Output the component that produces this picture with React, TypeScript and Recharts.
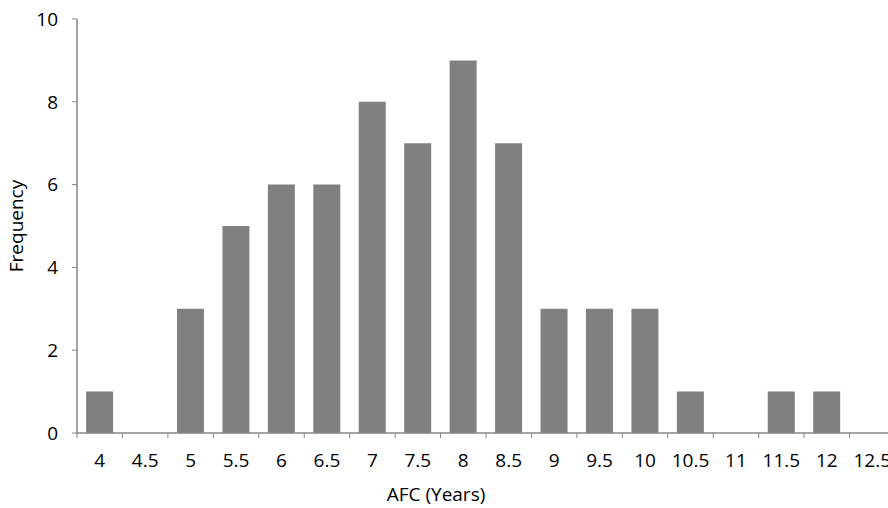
import React from 'react'
import { BarChart, Bar, XAxis, YAxis } from 'recharts'

// AFC bins (years) and how many fell in each
const afcBins = ['4', '4.5', '5', '5.5', '6', '6.5', '7', '7.5', '8', '8.5', '9', '9.5', '10', '10.5', '11', '11.5', '12', '12.5']
const frequency = [1, 0, 3, 5, 6, 6, 8, 7, 9, 7, 3, 3, 3, 1, 0, 1, 1, 0]
const yTicks = [0, 2, 4, 6, 8, 10]

const data = afcBins.map((bin, i) => ({ bin, freq: frequency[i] }))

const FONT = '"Open Sans", sans-serif'
const AXIS = '#868686'

// tick mark sits on the boundary between bins, label in the middle
const BinTick = (props: any) => {
  const { x, y, payload, width, visibleTicksCount } = props
  const bw = width / visibleTicksCount
  const left = x - bw / 2
  return (
    <g>
      <line x1={left} x2={left} y1={y} y2={y + 5} stroke={AXIS} strokeWidth={1} />
      <text x={x} y={y + 34} textAnchor="middle" fill="#000" fontSize={19} fontFamily={FONT}>
        {payload.value}
      </text>
    </g>
  )
}

export default function App() {
  return (
    <div style={{ position: 'absolute', left: 0, top: 0, width: 888, height: 508, overflow: 'hidden', background: '#fff' }}>
      <BarChart
        width={900}
        height={508}
        data={data}
        margin={{ top: 19, right: 5, left: 0, bottom: 0 }}
        barCategoryGap="20%"
      >
        <XAxis
          dataKey="bin"
          height={75}
          interval={0}
          tickSize={0}
          tickMargin={0}
          tickLine={false}
          axisLine={{ stroke: AXIS, strokeWidth: 1.5 }}
          tick={<BinTick />}
          label={({ viewBox }: any) => (
            <text x={436} y={viewBox.y + 68} textAnchor="middle" fill="#000" fontSize={19} fontFamily={FONT}>
              AFC (Years)
            </text>
          )}
        />
        <YAxis
          width={77}
          domain={[0, 10]}
          ticks={yTicks}
          interval={0}
          tickSize={5}
          tickMargin={14}
          tickLine={{ stroke: AXIS }}
          axisLine={{ stroke: AXIS, strokeWidth: 1.5 }}
          tick={{ fill: '#000', fontSize: 19, fontFamily: FONT }}
          label={({ viewBox }: any) => {
            const cy = viewBox.y + viewBox.height / 2
            return (
              <text
                x={23}
                y={cy}
                transform={`rotate(-90, 23, ${cy})`}
                textAnchor="middle"
                fill="#000"
                fontSize={19}
                fontFamily={FONT}
              >
                Frequency
              </text>
            )
          }}
        />
        <Bar dataKey="freq" fill="#808080" isAnimationActive={false} />
      </BarChart>
    </div>
  )
}
